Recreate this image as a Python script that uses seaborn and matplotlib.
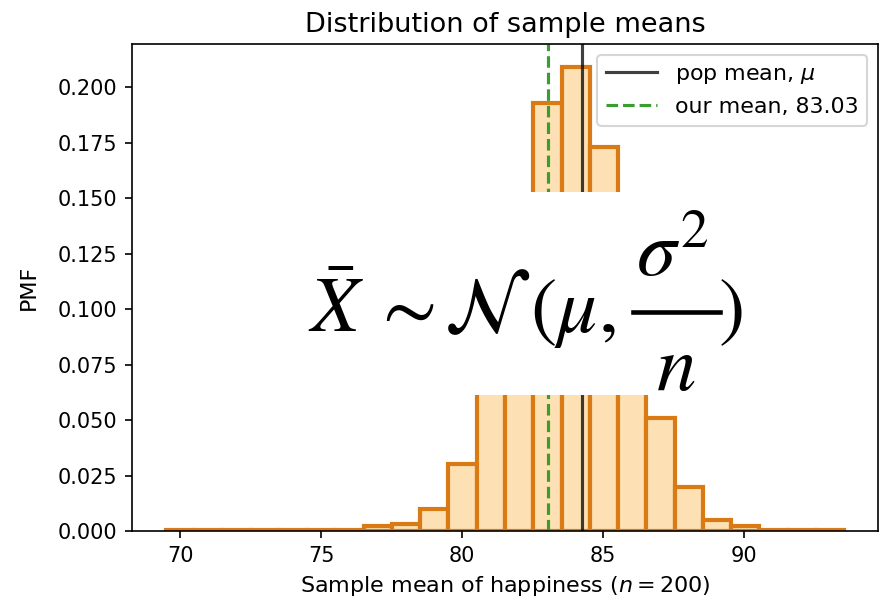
import numpy as np
import pandas as pd
import seaborn as sns
import matplotlib.pyplot as plt
from matplotlib.patches import Rectangle
from matplotlib.lines import Line2D

# histogram: 24 bins from 69.5 to ~93.54
bin_start = 69.5
bin_width = 1.0017
pmf = [0.0003, 0.0003, 0.0003, 0.0003, 0.0003, 0.0003, 0.0003,
       0.0021, 0.0030, 0.0100, 0.0300, 0.0700, 0.1350, 0.1930,
       0.2090, 0.1730, 0.1050, 0.0510, 0.0198, 0.0051, 0.0021,
       0.0003, 0.0003, 0.0003]
pop_mean = 84.25
our_mean = 83.03

edges = bin_start + bin_width * np.arange(len(pmf) + 1)
centers = (edges[:-1] + edges[1:]) / 2
df = pd.DataFrame({"mean": centers, "pmf": pmf})

W, H = 886, 607
fig = plt.figure(figsize=(W / 150, H / 150), dpi=150)
ax = fig.add_axes([132 / W, 1 - 531 / H, 746 / W, 487 / H])

sns.histplot(data=df, x="mean", weights="pmf", bins=list(edges), ax=ax,
             color="#fde1b4", edgecolor="#d97a14", linewidth=2, alpha=1)

ax.axvline(pop_mean, color="k", alpha=0.75, lw=1.5, label=r"pop mean, $\mu$")
ax.axvline(our_mean, color="#3a9d2f", ls="--", lw=1.5,
           label=f"our mean, {our_mean:.2f}")

ax.set_title("Distribution of sample means", fontsize=13)
ax.set_xlabel(r"Sample mean of happiness ($n = 200$)", fontsize=10.7)
ax.set_ylabel("PMF", fontsize=10.7, labelpad=9)
ax.set_xticks([70, 75, 80, 85, 90])
ax.set_yticks(np.arange(0, 0.201, 0.025))
ax.legend(loc="upper right", fontsize=10.6, handlelength=2.3)

# white box with the formula on top
fig.patches.append(Rectangle((295 / W, 1 - 395 / H), 470 / W, 203 / H,
                             transform=fig.transFigure, facecolor="white",
                             edgecolor="none", zorder=5))


def put(x, y, s, ha="left", size=38):
    fig.text(x / W, 1 - y / H, s, ha=ha, va="baseline", fontsize=size,
             math_fontfamily="stix", zorder=6)


put(308, 332, r"$\bar{X}$")
put(403, 332, r"$\sim$", ha="center")
put(444, 332, r"$\mathcal{N}$")
put(530, 332, r"$($")
put(554, 332, r"$\mu,$")
put(672, 276, r"$\sigma^2$", ha="center")
put(676, 390, r"$n$", ha="center")
put(718, 332, r"$)$")
fig.lines.append(Line2D([633 / W, 720 / W], [1 - 312 / H, 1 - 312 / H],
                        transform=fig.transFigure, color="black", lw=2.2,
                        zorder=6))

fig.savefig("out.png", dpi=150)
